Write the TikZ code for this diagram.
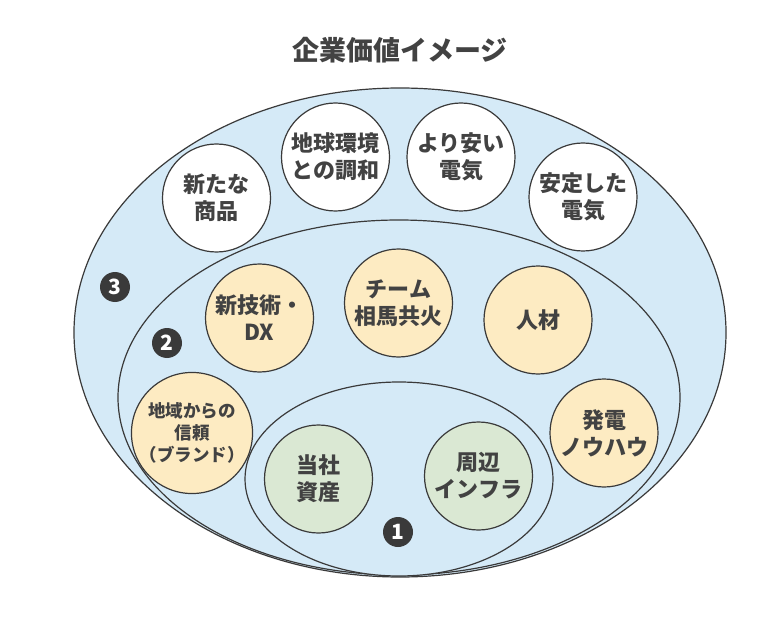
\documentclass[tikz,border=0pt]{standalone}
\usepackage{fontspec}
\setmainfont{Noto Sans CJK JP}
\definecolor{regionblue}{HTML}{D5EAF7}
\definecolor{valorange}{HTML}{FDEBC2}
\definecolor{valgreen}{HTML}{DAE8D3}
\definecolor{strokegray}{HTML}{3A3A3A}
\definecolor{textgray}{HTML}{424242}
\definecolor{badgegray}{HTML}{3A3A3A}
\tikzset{
  region/.style={draw=strokegray, fill=regionblue, line width=1.2pt},
  valcircle/.style={circle, draw=strokegray, line width=1.2pt, minimum size=108pt, inner sep=0pt,
    align=center, text=textgray, font=\fontsize{22}{27}\selectfont\bfseries},
  whitec/.style={valcircle, fill=white},
  orangec/.style={valcircle, fill=valorange},
  greenc/.style={valcircle, fill=valgreen},
  badge/.style={circle, fill=badgegray, minimum size=30pt, inner sep=0pt, text=white,
    font=\fontsize{21}{21}\selectfont\bfseries},
}
\begin{document}
\begin{tikzpicture}[x=1pt,y=-1pt]
\useasboundingbox (0,0) rectangle (782,631);
\fill[white] (0,0) rectangle (782,631);
\node[text=textgray, font=\fontsize{27}{27}\selectfont\bfseries] (title) at (400,50) {企業価値イメージ};
% regions
\draw[region] (400,332.5) ellipse [x radius=326pt, y radius=244.5pt];
\draw[region] (399,397.5) ellipse [x radius=281pt, y radius=177.5pt];
\draw[region] (399,479) ellipse [x radius=154pt, y radius=97pt];
% outer ring values
\node[whitec] (shohin) at (216.5,198) {新たな\\商品};
\node[whitec] (kankyo) at (335.5,157) {地球環境\\との調和};
\node[whitec] (yasui) at (461,157) {より安い\\電気};
\node[whitec] (antei) at (583,197) {安定した\\電気};
% middle ring values
\node[orangec] (dx) at (259.5,318) {新技術・\\DX};
\node[orangec] (team) at (398.5,303) {チーム\\相馬共火};
\node[orangec] (jinzai) at (538,320) {人材};
\node[orangec, font=\fontsize{17.5}{22}\selectfont\bfseries] (shinrai) at (192,433) {地域からの\\信頼\\（ブランド）};
\node[orangec] (knowhow) at (604,433) {発電\\ノウハウ};
% inner values
\node[greenc] (shisan) at (318.5,479) {当社\\資産};
\node[greenc] (infra) at (478.5,476) {周辺\\インフラ};
% badges
\node[badge] (b3) at (115,287) {3};
\node[badge] (b2) at (167,343) {2};
\node[badge] (b1) at (398,532) {1};
\end{tikzpicture}
\end{document}
